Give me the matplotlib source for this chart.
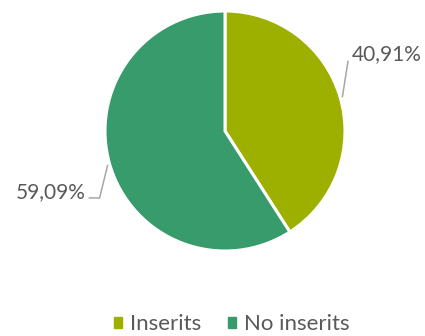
import numpy as np
import matplotlib.pyplot as plt

labels = ["Inserits", "No inserits"]
values = [40.91, 59.09]
value_text = ["40,91%", "59,09%"]
colors = ["#9db000", "#379b6b"]

plt.rcParams["font.family"] = ["Lato", "DejaVu Sans"]

fig = plt.figure(figsize=(4.25, 3.36), dpi=100)
ax = fig.add_axes([105 / 425, 85 / 336, 240 / 425, 240 / 336])

wedges, _ = ax.pie(values, colors=colors, startangle=90, counterclock=False,
                   radius=1.0, wedgeprops=dict(edgecolor="white", linewidth=2.2))
ax.set_xlim(-1, 1)
ax.set_ylim(-1, 1)
ax.set_aspect("equal")
ax.axis("off")

line_kw = dict(color="#a6a6a6", lw=1.1, clip_on=False)
txt_kw = dict(fontsize=15, color="#595959", va="baseline")

# leader lines start at the middle of each wedge
mids = [np.deg2rad((w.theta1 + w.theta2) / 2) for w in wedges]

# Inserits: slanted line up to the label on the right
x0, y0 = 1.02 * np.cos(mids[0]), 1.02 * np.sin(mids[0])
ax.plot([x0, 1.025], [y0, 0.58], **line_kw)
ax.text(1.06, 0.59, value_text[0], ha="left", **txt_kw)

# No inserits: line with an elbow to the label on the left
x1, y1 = 1.02 * np.cos(mids[1]), 1.02 * np.sin(mids[1])
ax.plot([x1, -1.045, -1.13], [y1, -0.558, -0.558], **line_kw)
ax.text(-1.165, -0.558, value_text[1], ha="right", **txt_kw)

handles = [plt.Rectangle((0, 0), 1, 1, color=c) for c in colors]
fig.legend(handles, labels, loc="center", bbox_to_anchor=(0.545, 1 - 324 / 336),
           ncol=2, frameon=False, fontsize=16, handlelength=0.38, handleheight=0.38,
           handletextpad=0.35, columnspacing=1.2, labelcolor="#595959",
           borderpad=0, borderaxespad=0)

fig.savefig("out.png", dpi=100)
